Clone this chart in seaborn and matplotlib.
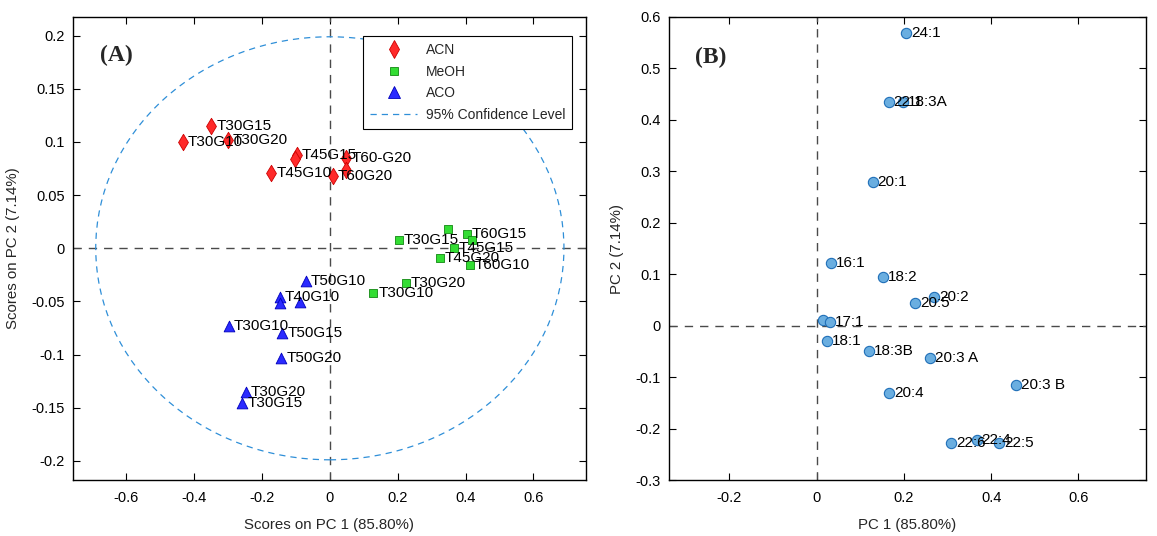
import numpy as np
import pandas as pd
import matplotlib
matplotlib.use("Agg")
import matplotlib.pyplot as plt
from matplotlib.patches import Ellipse
from matplotlib.lines import Line2D
import seaborn as sns

# ---------------- Panel A data ----------------
acn_x = [-0.349, -0.433, -0.300, -0.0965, -0.103, -0.172, 0.049, 0.049, 0.0097]
acn_y = [0.115, 0.0998, 0.102, 0.0879, 0.0838, 0.0706, 0.0848, 0.0737, 0.068]
acn_lab = ["T30G15", "T30G10", "T30G20", "T45G15", "", "T45G10", "T60-G20", "", "T60G20"]

meoh_x = [0.349, 0.2045, 0.405, 0.418, 0.366, 0.325, 0.413, 0.224, 0.128]
meoh_y = [0.0179, 0.0078, 0.0135, 0.0078, 0.0, -0.0094, -0.0157, -0.0324, -0.0424]
meoh_lab = ["", "T30G15", "T60G15", "", "T45G15", "T45G20", "T60G10", "T30G20", "T30G10"]

aco_x = [-0.0708, -0.1475, -0.1475, -0.0885, -0.297, -0.1396, -0.1425, -0.248, -0.2576]
aco_y = [-0.0305, -0.0456, -0.0518, -0.0503, -0.0732, -0.0801, -0.1036, -0.1351, -0.146]
aco_lab = ["T50G10", "T40G10", "", "", "T30G10", "T50G15", "T50G20", "T30G20", "T30G15"]

groups = ["ACN", "MeOH", "ACO"]
ellipse_rx, ellipse_ry = 0.69, 0.199

# ---------------- Panel B data ----------------
b_x = [0.205, 0.165, 0.198, 0.129, 0.0325, 0.152, 0.269, 0.226, 0.014, 0.031,
       0.025, 0.120, 0.260, 0.457, 0.167, 0.308, 0.367, 0.419]
b_y = [0.569, 0.434, 0.434, 0.280, 0.122, 0.0947, 0.0557, 0.044, 0.0103, 0.007,
       -0.030, -0.0494, -0.0624, -0.116, -0.131, -0.229, -0.222, -0.229]
b_lab = ["24:1", "22:1", "18:3A", "20:1", "16:1", "18:2", "20:2", "20:5", "", "17:1",
         "18:1", "18:3B", "20:3 A", "20:3 B", "20:4", "22:6", "22:4", "22:5"]

sns.set_style("white")
plt.rcParams["font.family"] = ["Liberation Sans", "DejaVu Sans"]

df_a = pd.DataFrame({
    "x": acn_x + meoh_x + aco_x,
    "y": acn_y + meoh_y + aco_y,
    "lab": acn_lab + meoh_lab + aco_lab,
    "group": ["ACN"] * len(acn_x) + ["MeOH"] * len(meoh_x) + ["ACO"] * len(aco_x),
})
df_b = pd.DataFrame({"x": b_x, "y": b_y, "lab": b_lab})

palette = {"ACN": "#ff2a2a", "MeOH": "#33dd33", "ACO": "#2a2aff"}
edges = {"ACN": "#cc0000", "MeOH": "#118811", "ACO": "#0000bb"}
markers = {"ACN": "d", "MeOH": "s", "ACO": "^"}
sizes = {"ACN": 70, "MeOH": 36, "ACO": 60}

fig = plt.figure(figsize=(11.57, 5.36), dpi=100)
axA = fig.add_axes([73 / 1157, 56 / 536, 513 / 1157, 463 / 536])
axB = fig.add_axes([669 / 1157, 56 / 536, 477 / 1157, 463 / 536])

ell_color = "#2f8fd8"
zero_kw = dict(color="#4a4a4a", ls=(0, (6, 5)), lw=1.0, zorder=1)

# Panel A
axA.axhline(0, **zero_kw)
axA.axvline(0, **zero_kw)
axA.add_patch(Ellipse((0, 0), 2 * ellipse_rx, 2 * ellipse_ry, fill=False,
                      ec=ell_color, ls=(0, (5, 4)), lw=0.9, zorder=1))
for g in groups:
    sub = df_a[df_a.group == g]
    sns.scatterplot(data=sub, x="x", y="y", ax=axA, marker=markers[g], s=sizes[g],
                    color=palette[g], edgecolor=edges[g], linewidth=0.6,
                    legend=False, zorder=3)
for _, r in df_a.iterrows():
    if r.lab:
        axA.annotate(r.lab, (r.x, r.y), xytext=(3.5, 0), textcoords="offset points",
                     va="center", ha="left", fontsize=11, color="black", zorder=4)

axA.set_xlim(-0.757, 0.755)
axA.set_ylim(-0.218, 0.2176)
axA.set_xticks([-0.6, -0.4, -0.2, 0, 0.2, 0.4, 0.6])
axA.set_xticklabels(["-0.6", "-0.4", "-0.2", "0", "0.2", "0.4", "0.6"])
axA.set_yticks([-0.2, -0.15, -0.1, -0.05, 0, 0.05, 0.1, 0.15, 0.2])
axA.set_yticklabels(["-0.2", "-0.15", "-0.1", "-0.05", "0", "0.05", "0.1", "0.15", "0.2"])
axA.set_xlabel("Scores on PC 1 (85.80%)", fontsize=10.8, labelpad=9)
axA.set_ylabel("Scores on PC 2 (7.14%)", fontsize=10.8, labelpad=8)
axA.text(0.053, 0.918, "(A)", transform=axA.transAxes, fontsize=17, fontweight="bold",
         family="Liberation Serif", va="center", ha="left")

handles = [
    Line2D([], [], ls="none", marker="d", ms=9, mfc=palette["ACN"], mec=edges["ACN"], mew=0.6),
    Line2D([], [], ls="none", marker="s", ms=6, mfc=palette["MeOH"], mec=edges["MeOH"], mew=0.6),
    Line2D([], [], ls="none", marker="^", ms=8, mfc=palette["ACO"], mec=edges["ACO"], mew=0.6),
    Line2D([], [], color=ell_color, ls=(0, (5, 4)), lw=0.9),
]
leg = axA.legend(handles, ["ACN", "MeOH", "ACO", "95% Confidence Level"],
                 loc="upper right", bbox_to_anchor=(0.9727, 0.959), borderaxespad=0,
                 fontsize=10, frameon=True, fancybox=False, edgecolor="black",
                 framealpha=1, handlelength=3.4, borderpad=0.5, labelspacing=0.55,
                 handletextpad=0.6)
leg.get_frame().set_linewidth(0.8)

# Panel B
axB.axhline(0, **zero_kw)
axB.axvline(0, **zero_kw)
sns.scatterplot(data=df_b, x="x", y="y", ax=axB, marker="o", s=55,
                color="#6aaee0", edgecolor="#1f6fb8", linewidth=0.8, legend=False, zorder=3)
for _, r in df_b.iterrows():
    if r.lab:
        axB.annotate(r.lab, (r.x, r.y), xytext=(3.5, 0), textcoords="offset points",
                     va="center", ha="left", fontsize=11, color="black", zorder=4)
axB.set_xlim(-0.338, 0.755)
axB.set_ylim(-0.3, 0.6)
axB.set_xticks([-0.2, 0, 0.2, 0.4, 0.6])
axB.set_xticklabels(["-0.2", "0", "0.2", "0.4", "0.6"])
axB.set_yticks([-0.3, -0.2, -0.1, 0, 0.1, 0.2, 0.3, 0.4, 0.5, 0.6])
axB.set_yticklabels(["-0.3", "-0.2", "-0.1", "0", "0.1", "0.2", "0.3", "0.4", "0.5", "0.6"])
axB.set_xlabel("PC 1 (85.80%)", fontsize=10.8, labelpad=9)
axB.set_ylabel("PC 2 (7.14%)", fontsize=10.8, labelpad=8)
axB.text(0.055, 0.913, "(B)", transform=axB.transAxes, fontsize=17, fontweight="bold",
         family="Liberation Serif", va="center", ha="left")

for ax in (axA, axB):
    for s in ax.spines.values():
        s.set_visible(True)
        s.set_color("black")
        s.set_linewidth(1.0)
    ax.tick_params(direction="in", length=5, width=0.8, top=True, right=True,
                   bottom=True, left=True, labelsize=10.5, colors="black", pad=6)
    ax.tick_params(axis="x", pad=8)
    ax.grid(False)

fig.savefig("out.png", dpi=100, facecolor="white")
